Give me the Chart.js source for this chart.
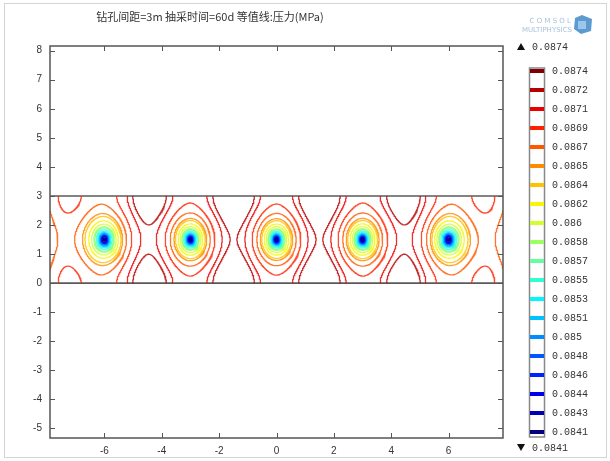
<!DOCTYPE html>
<html>
<head>
<meta charset="utf-8">
<script src="https://cdn.jsdelivr.net/npm/chart.js@4.4.1/dist/chart.umd.min.js"></script>
<style>
  body { margin: 0; background: #fff; }
  canvas { display: block; }
</style>
</head>
<body>
<canvas id="contourChart" width="610" height="461"></canvas>
<script>
// boreholes (x in m), the two at +-9 sit just outside the window
const wellX = [-9, -6, -3, 0, 3, 6, 9];
const wellY = 1.5;
// coal seam boundaries (m)
const seamY = [0, 3];
// contour levels, as printed in the colour bar (top to bottom)
const levelLabels = [
  "0.0874", "0.0872", "0.0871", "0.0869", "0.0867", "0.0865", "0.0864",
  "0.0862", "0.086", "0.0858", "0.0857", "0.0855", "0.0853", "0.0851",
  "0.085", "0.0848", "0.0846", "0.0844", "0.0843", "0.0841",
];
const pMax = 0.0874;
const pMin = 0.0841;
const xTicks = [-6, -4, -2, 0, 2, 4, 6];
const yTicks = [-5, -4, -3, -2, -1, 0, 1, 2, 3, 4, 5, 6, 7, 8];

const levelColors = [
  "#800000", "#b50000", "#eb0000", "#ff2200", "#ff5700", "#ff8c00", "#ffc200",
  "#f7f700", "#d1ff2e", "#9cff63", "#63ff9c", "#2effd1", "#00f7ff", "#00c2ff",
  "#008cff", "#0057ff", "#0022ff", "#0000eb", "#0000b5", "#000080",
];

const X_MIN = -7.9, X_MAX = 7.9, Y_MIN = -5.33, Y_MAX = 8.16;

// --- pressure field: periodic row of sinks between two no-flow walls ---
const ANISO = 0.82, EDGE = 2.5e-4, WALL = 0.15, RW = 0.07;

function rawField(x, y) {
  const P = (seamY[1] - seamY[0]) * ANISO;
  const Q = wellX[1] - wellX[0];
  const cth = Math.cos((2 * Math.PI * (y - wellY)) / (seamY[1] - seamY[0]));
  let f = 0, dmin = Infinity;
  for (const xw of wellX) {
    const X = Math.abs(x - xw);
    const e = Math.exp((-2 * Math.PI * X) / P);
    f += Math.log(1 - 2 * e * cth + e * e + 1e-12);
    dmin = Math.min(dmin, X);
  }
  f += ((2 * Math.PI) / P) * (dmin - (dmin * dmin) / Q);
  f += WALL * 0.25 * (1 - Math.cos((2 * Math.PI * dmin) / Q)) * (1 - cth);
  return f - EDGE * x * x * x * x;
}

const dxg = 0.02, dyg = 0.02;
const nx = Math.round((X_MAX - X_MIN) / dxg) + 1;
const ny = Math.round((seamY[1] - seamY[0]) / dyg) + 1;
const gx = [], gy = [];
for (let i = 0; i < nx; i++) gx.push(X_MIN + i * dxg);
for (let j = 0; j < ny; j++) gy.push(seamY[0] + j * dyg);

const raw = new Float64Array(nx * ny);
let rMax = -Infinity;
for (let j = 0; j < ny; j++) {
  for (let i = 0; i < nx; i++) {
    const v = rawField(gx[i], gy[j]);
    raw[j * nx + i] = v;
    if (v > rMax) rMax = v;
  }
}
const rMin = rawField(RW, wellY);
const field = raw.map((v) => pMin + ((v - rMin) / (rMax - rMin)) * (pMax - pMin));

// --- marching squares, chained into polylines ---
function contourLines(level) {
  const segs = [];
  const pt = (key, x, y) => ({ key, x, y });
  for (let j = 0; j < ny - 1; j++) {
    for (let i = 0; i < nx - 1; i++) {
      const v0 = field[j * nx + i], v1 = field[j * nx + i + 1];
      const v2 = field[(j + 1) * nx + i + 1], v3 = field[(j + 1) * nx + i];
      const c = (v0 > level ? 1 : 0) | (v1 > level ? 2 : 0) | (v2 > level ? 4 : 0) | (v3 > level ? 8 : 0);
      if (c === 0 || c === 15) continue;
      const e = [];
      e[0] = () => pt(2 * (j * nx + i), gx[i] + ((level - v0) / (v1 - v0)) * dxg, gy[j]);
      e[1] = () => pt(2 * (j * nx + i + 1) + 1, gx[i + 1], gy[j] + ((level - v1) / (v2 - v1)) * dyg);
      e[2] = () => pt(2 * ((j + 1) * nx + i), gx[i] + ((level - v3) / (v2 - v3)) * dxg, gy[j + 1]);
      e[3] = () => pt(2 * (j * nx + i) + 1, gx[i], gy[j] + ((level - v0) / (v3 - v0)) * dyg);
      const above = [c & 1, (c >> 1) & 1, (c >> 2) & 1, (c >> 3) & 1];
      const crossed = [];
      if (above[0] !== above[1]) crossed.push(0);
      if (above[1] !== above[2]) crossed.push(1);
      if (above[3] !== above[2]) crossed.push(2);
      if (above[0] !== above[3]) crossed.push(3);
      if (crossed.length === 2) {
        segs.push([e[crossed[0]](), e[crossed[1]]()]);
      } else if (crossed.length === 4) {
        const centre = (v0 + v1 + v2 + v3) / 4 > level;
        let pairs;
        if (c === 5) pairs = centre ? [[0, 1], [2, 3]] : [[0, 3], [1, 2]];
        else pairs = centre ? [[0, 3], [1, 2]] : [[0, 1], [2, 3]];
        for (const p of pairs) segs.push([e[p[0]](), e[p[1]]()]);
      }
    }
  }
  const byKey = new Map();
  segs.forEach((s, idx) => {
    for (const p of s) {
      if (!byKey.has(p.key)) byKey.set(p.key, []);
      byKey.get(p.key).push(idx);
    }
  });
  const used = new Uint8Array(segs.length);
  const out = [];
  function extend(line, key, fromIdx) {
    let cur = key, prev = fromIdx;
    for (;;) {
      const nb = (byKey.get(cur) || []).find((s) => s !== prev && !used[s]);
      if (nb === undefined) break;
      used[nb] = 1;
      const s = segs[nb];
      const nxt = s[0].key === cur ? s[1] : s[0];
      line.push({ x: nxt.x, y: nxt.y });
      cur = nxt.key;
      prev = nb;
    }
  }
  for (let s = 0; s < segs.length; s++) {
    if (used[s]) continue;
    used[s] = 1;
    const fwd = [{ x: segs[s][1].x, y: segs[s][1].y }];
    extend(fwd, segs[s][1].key, s);
    const back = [];
    extend(back, segs[s][0].key, s);
    const line = back.reverse().concat([{ x: segs[s][0].x, y: segs[s][0].y }], fwd);
    out.push(...line, { x: null, y: null });
  }
  return out;
}

const contourSets = levelLabels.map((lab, i) => ({
  data: contourLines(Number(lab)),
  borderColor: levelColors[i] + "d0",
  borderWidth: 1.3,
  pointRadius: 0,
  spanGaps: false,
  tension: 0,
}));

const wellSet = {
  data: wellX.map((x) => ({ x, y: wellY })),
  showLine: false,
  pointRadius: 2.4,
  pointBorderWidth: 0,
  pointBackgroundColor: "#000090",
};

const seamSets = seamY.map((y) => ({
  data: [{ x: X_MIN, y }, { x: X_MAX, y }],
  borderColor: "#5a5a5a",
  borderWidth: 1.6,
  pointRadius: 0,
}));

const decor = {
  id: "decor",
  beforeDraw(chart) {
    const c = chart.ctx;
    c.save();
    c.fillStyle = "#fff";
    c.fillRect(0, 0, chart.width, chart.height);
    c.restore();
  },
  afterDraw(chart) {
    const c = chart.ctx;
    const { left, right, top, bottom } = chart.chartArea;
    const xs = chart.scales.x, ys = chart.scales.y;
    c.save();
    // frame and inward ticks
    c.strokeStyle = "#555";
    c.lineWidth = 1.5;
    c.strokeRect(left, top, right - left, bottom - top);
    c.lineWidth = 1;
    c.beginPath();
    for (const v of xTicks) {
      const px = Math.round(xs.getPixelForValue(v)) + 0.5;
      c.moveTo(px, bottom); c.lineTo(px, bottom - 5);
      c.moveTo(px, top); c.lineTo(px, top + 5);
    }
    for (const v of yTicks) {
      const py = Math.round(ys.getPixelForValue(v)) + 0.5;
      c.moveTo(left, py); c.lineTo(left + 5, py);
      c.moveTo(right, py); c.lineTo(right - 5, py);
    }
    c.stroke();

    // title
    c.fillStyle = "#333";
    c.font = '11px "Noto Sans CJK SC"';
    c.textAlign = "center";
    c.textBaseline = "middle";
    c.fillText("钻孔间距=3m 抽采时间=60d 等值线:压力(MPa)", 210, 17);

    // logo
    c.fillStyle = "#a9c3dc";
    c.font = '7px "DejaVu Sans"';
    c.textAlign = "right";
    c.fillText("C O M S O L", 571, 21);
    c.fillText("MULTIPHYSICS", 572, 30);
    c.fillStyle = "#5d9ad0";
    c.beginPath();
    c.moveTo(582, 15); c.lineTo(592, 19); c.lineTo(591, 31); c.lineTo(581, 34);
    c.lineTo(574, 29); c.lineTo(575, 18); c.closePath();
    c.fill();
    c.fillStyle = "#9cc6ea";
    c.fillRect(578, 21, 8, 8);

    // colour bar
    const barL = 530, barW = 14, barTop = 68, barBot = 437, y0 = 71, step = 19;
    c.strokeStyle = "#888";
    c.lineWidth = 1.5;
    c.strokeRect(barL - 0.5, barTop, barW + 1, barBot - barTop);
    c.font = '10px "Liberation Mono"';
    c.textAlign = "left";
    c.textBaseline = "middle";
    levelLabels.forEach((lab, i) => {
      const yy = y0 + i * step;
      c.fillStyle = levelColors[i];
      c.fillRect(barL, yy - 2, barW, 4);
      c.fillStyle = "#333";
      c.fillText(lab, 552, yy);
    });
    c.fillStyle = "#111";
    c.beginPath();
    c.moveTo(517, 50); c.lineTo(525, 50); c.lineTo(521, 43); c.closePath();
    c.fill();
    c.beginPath();
    c.moveTo(517, 444); c.lineTo(525, 444); c.lineTo(521, 451); c.closePath();
    c.fill();
    c.fillStyle = "#333";
    c.fillText(levelLabels[0], 532, 47);
    c.fillText(levelLabels[levelLabels.length - 1], 532, 448);

    // picture border
    c.strokeStyle = "#d4d4d4";
    c.lineWidth = 1;
    c.strokeRect(4.5, 3.5, 602, 454);
    c.restore();
  },
};

const tickFont = { family: "Liberation Sans", size: 10 };

new Chart(document.getElementById("contourChart"), {
  type: "line",
  data: { datasets: [...contourSets, wellSet, ...seamSets] },
  options: {
    responsive: false,
    animation: false,
    layout: { padding: { left: 0, right: 107, top: 46, bottom: 0 } },
    plugins: { legend: { display: false }, tooltip: { enabled: false } },
    scales: {
      x: {
        type: "linear",
        min: X_MIN,
        max: X_MAX,
        afterBuildTicks: (s) => { s.ticks = xTicks.map((v) => ({ value: v })); },
        afterFit: (s) => { s.height = 23; },
        grid: { display: false, drawTicks: false },
        border: { display: false },
        ticks: { color: "#333", font: tickFont, padding: 7, maxRotation: 0 },
      },
      y: {
        type: "linear",
        min: Y_MIN,
        max: Y_MAX,
        afterBuildTicks: (s) => { s.ticks = yTicks.map((v) => ({ value: v })); },
        afterFit: (s) => { s.width = 50; },
        grid: { display: false, drawTicks: false },
        border: { display: false },
        ticks: { color: "#333", font: tickFont, padding: 8 },
      },
    },
  },
  plugins: [decor],
});
</script>
</body>
</html>
